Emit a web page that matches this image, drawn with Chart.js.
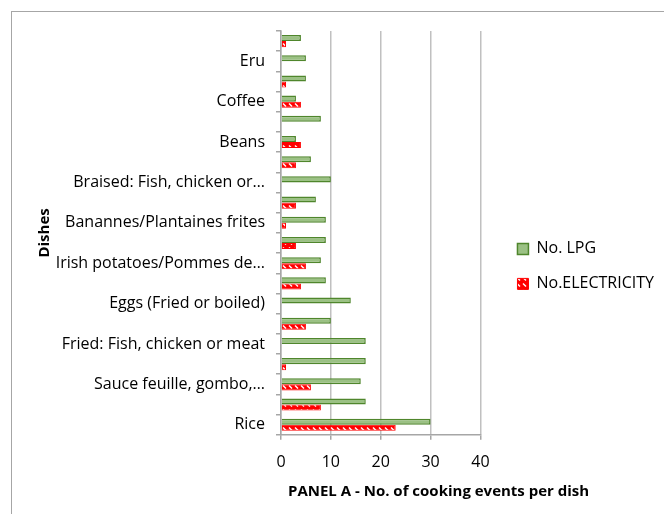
<!DOCTYPE html>
<html>
<head>
<meta charset="utf-8">
<script src="https://cdn.jsdelivr.net/npm/chart.js@4/dist/chart.umd.min.js"></script>
<style>
  html, body { margin: 0; padding: 0; background: #fff; }
  #wrap { position: relative; width: 664px; height: 514px; overflow: hidden; }
  #frame { position: absolute; left: 11px; top: 11px; width: 700px; height: 600px;
           border-left: 1px solid #a6a6a6; border-top: 1px solid #a6a6a6; }
  canvas { position: absolute; left: 0; top: 0; }
</style>
</head>
<body>
<div id="wrap">
  <div id="frame"></div>
  <canvas id="chart" width="664" height="514"></canvas>
</div>
<script>
// Dishes, top to bottom (only every other one gets a printed label)
const dishes = [
  '', 'Eru', '', 'Coffee', '', 'Beans', '', 'Braised: Fish, chicken or…',
  '', 'Banannes/Plantaines frites', '', 'Irish potatoes/Pommes de…',
  '', 'Eggs (Fried or boiled)', '', 'Fried: Fish, chicken or meat',
  '', 'Sauce feuille, gombo,…', '', 'Rice'
];
const lpgCounts  = [4, 5, 5, 3, 8, 3, 6, 10, 7, 9, 9, 8, 9, 14, 10, 17, 17, 16, 17, 30];
const elecCounts = [1, 0, 1, 4, 0, 4, 3, 0, 3, 1, 3, 5, 4, 0, 5, 0, 1, 6, 8, 23];
const xTicks = [0, 10, 20, 30, 40];
const xTitle = 'PANEL A - No. of cooking events per dish';

const FONT = "'Open Sans', 'Liberation Sans', sans-serif";

// red fill with white diagonal dashes
function stripePattern() {
  const c = document.createElement('canvas');
  c.width = 6; c.height = 6;
  const g = c.getContext('2d');
  g.fillStyle = '#ff0000';
  g.fillRect(0, 0, 6, 6);
  g.strokeStyle = '#ffffff';
  g.lineWidth = 1.4;
  g.beginPath();
  g.moveTo(1, 1.5);
  g.lineTo(4, 4.5);
  g.stroke();
  return g.createPattern(c, 'repeat');
}
const elecFill = stripePattern();

// x-axis title is wider than the plot, so it is drawn here instead of by the scale
const axisTitle = {
  id: 'axisTitle',
  afterDraw(chart) {
    const { ctx, chartArea } = chart;
    ctx.save();
    ctx.font = `bold 15px ${FONT}`;
    ctx.fillStyle = '#000';
    ctx.textAlign = 'left';
    ctx.textBaseline = 'middle';
    ctx.fillText(xTitle, chartArea.left + 7, chartArea.bottom + 57);
    ctx.restore();
  }
};

new Chart(document.getElementById('chart').getContext('2d'), {
  type: 'bar',
  data: {
    labels: dishes,
    datasets: [
      {
        label: 'No. LPG',
        data: lpgCounts,
        backgroundColor: '#9bc184',
        borderColor: '#4f862c',
        borderWidth: 1.5,
        categoryPercentage: 0.6,
        barPercentage: 1.0
      },
      {
        label: 'No.ELECTRICITY',
        data: elecCounts,
        backgroundColor: elecFill,
        borderColor: '#ff0000',
        borderWidth: 1,
        categoryPercentage: 0.6,
        barPercentage: 1.0
      }
    ]
  },
  options: {
    indexAxis: 'y',
    responsive: false,
    animation: false,
    layout: { padding: { left: 36, top: 31, right: 0, bottom: 29 } },
    plugins: {
      tooltip: { enabled: false },
      legend: {
        position: 'right',
        maxWidth: 200,
        // blank title pushes the entries a little lower
        title: { display: true, text: ' ', font: { size: 14 } },
        labels: {
          color: '#000',
          font: { family: FONT, size: 16 },
          boxWidth: 11,
          boxHeight: 11,
          padding: 19
        }
      }
    },
    scales: {
      x: {
        min: 0,
        max: 40,
        afterBuildTicks: s => { s.ticks = xTicks.map(v => ({ value: v })); },
        ticks: { color: '#000', font: { family: FONT, size: 16 }, padding: 13 },
        grid: { color: '#c0c0c0', lineWidth: 1.5, tickLength: 5, tickColor: '#a6a6a6' },
        border: { color: '#a6a6a6', width: 1.5 }
      },
      y: {
        afterFit: s => { s.width = 245; },
        ticks: { color: '#000', font: { family: FONT, size: 16 }, autoSkip: false, padding: 11 },
        grid: { drawOnChartArea: false, tickLength: 5, color: '#a6a6a6', lineWidth: 1.5 },
        border: { color: '#a6a6a6', width: 1.5 },
        title: {
          display: true,
          text: 'Dishes',
          color: '#000',
          font: { family: FONT, size: 15, weight: 'bold' },
          padding: { top: 0, bottom: 6 }
        }
      },
      // empty gutter between the plot and the legend
      gutter: {
        type: 'linear',
        axis: 'y',
        position: 'right',
        afterFit: s => { s.width = 18; },
        grid: { display: false },
        border: { display: false },
        ticks: { display: false }
      }
    }
  },
  plugins: [axisTitle]
});
</script>
</body>
</html>
